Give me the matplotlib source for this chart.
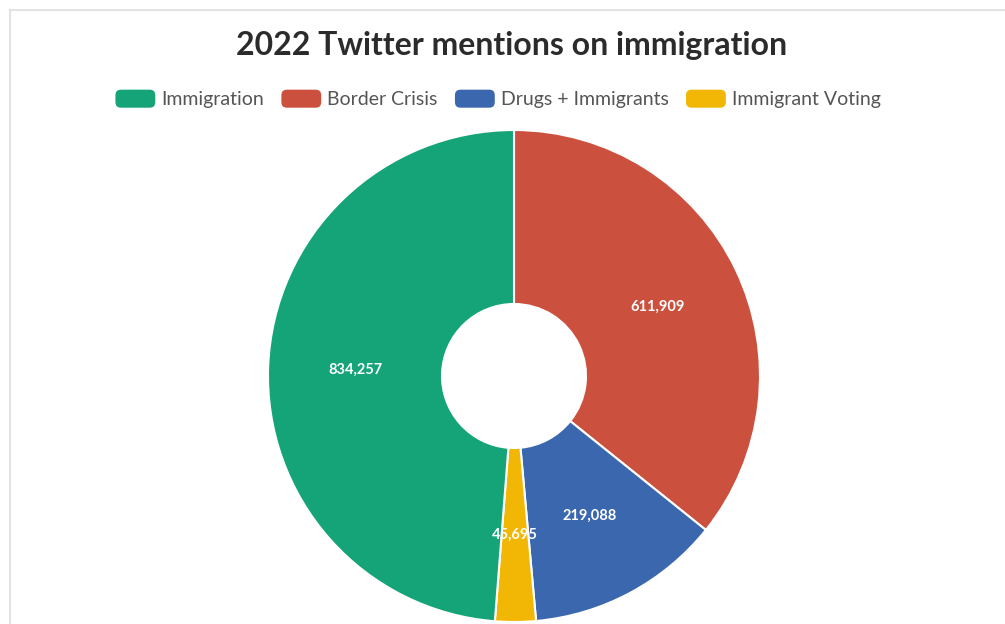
import matplotlib
matplotlib.use("Agg")
import matplotlib.pyplot as plt
import numpy as np
from matplotlib.patches import FancyBboxPatch, Patch
from matplotlib.legend_handler import HandlerPatch
from matplotlib.lines import Line2D

# Data
legend_labels = ["Immigration", "Border Crisis", "Drugs + Immigrants", "Immigrant Voting"]
legend_colors = ["#14a478", "#cb513e", "#3a67ae", "#f2b705"]
# drawing order (clockwise from top)
pie_labels = ["Border Crisis", "Drugs + Immigrants", "Immigrant Voting", "Immigration"]
pie_values = [611909, 219088, 45695, 834257]
title = "2022 Twitter mentions on immigration"

color_map = dict(zip(legend_labels, legend_colors))
plt.rcParams['font.family'] = ['Lato', 'DejaVu Sans']

W, H = 1005, 624
fig = plt.figure(figsize=(W / 100, H / 100), dpi=100)
fig.patch.set_facecolor("white")

# frame lines (light gray border, cropped at right/bottom)
fig.add_artist(Line2D([10 / W, 10 / W], [0, 1 - 10 / H], transform=fig.transFigure,
                      color="#e3e3e3", lw=1.5))
fig.add_artist(Line2D([10 / W, 1], [1 - 10 / H, 1 - 10 / H], transform=fig.transFigure,
                      color="#e3e3e3", lw=1.5))

cx, cy, R, r_in = 514, 376, 246, 72
ax = fig.add_axes([(cx - R) / W, (H - cy - R) / H, 2 * R / W, 2 * R / H])
ax.axis("off")

ring = 1 - r_in / R
wedges, _ = ax.pie(pie_values, startangle=90, counterclock=False, radius=1,
                   colors=[color_map[l] for l in pie_labels],
                   wedgeprops=dict(width=ring, edgecolor="white", linewidth=1.5))
ax.set_xlim(-1, 1)
ax.set_ylim(-1, 1)

total = sum(pie_values)
rmid = (1 + r_in / R) / 2
start = 90.0
for v in pie_values:
    sweep = 360.0 * v / total
    mid = np.deg2rad(start - sweep / 2)
    ax.text(rmid * np.cos(mid), rmid * np.sin(mid), f"{v:,}", ha="center", va="center",
            color="white", fontsize=10.5, fontweight="bold")
    start -= sweep

fig.text(512 / W, 1 - 46 / H, title, ha="center", va="center", fontsize=23,
         fontweight="bold", color="#2b2b2b")


class RoundHandler(HandlerPatch):
    def create_artists(self, legend, orig_handle, xdescent, ydescent, width, height,
                       fontsize, trans):
        p = FancyBboxPatch((-xdescent, -ydescent), width, height,
                           boxstyle="round,pad=0,rounding_size=4",
                           facecolor=orig_handle.get_facecolor(), edgecolor="none",
                           transform=trans)
        return [p]


handles = [Patch(facecolor=color_map[l], label=l) for l in legend_labels]
leg = fig.legend(handles=handles, loc="center", bbox_to_anchor=(498 / W, 1 - 99 / H),
                 ncol=4, frameon=False, fontsize=14, handlelength=2.05, handleheight=1.05,
                 handletextpad=0.3, columnspacing=0.9,
                 handler_map={Patch: RoundHandler()})
for t in leg.get_texts():
    t.set_color("#555555")

fig.savefig("out.png", dpi=100, facecolor="white")
